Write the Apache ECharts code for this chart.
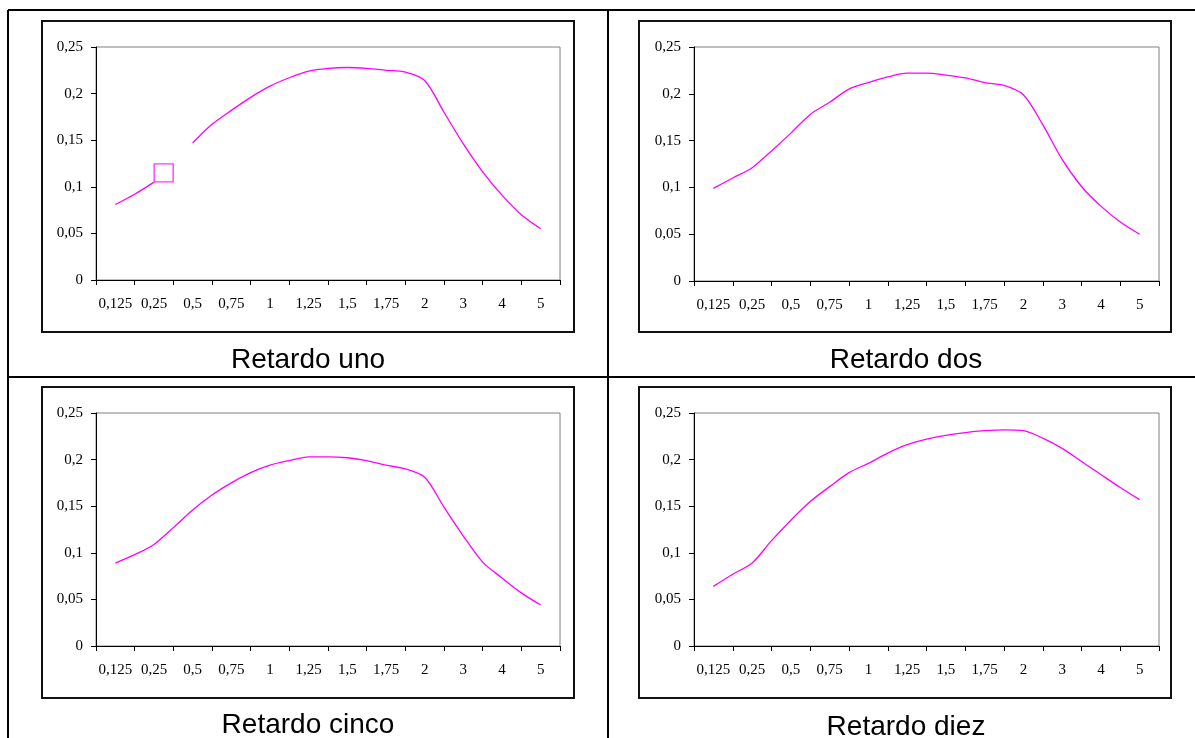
<!DOCTYPE html>
<html>
<head>
<meta charset="utf-8">
<script src="https://cdn.jsdelivr.net/npm/echarts@6/dist/echarts.min.js"></script>
<style>
html,body{margin:0;padding:0;background:#fff;}
#main{width:1195px;height:738px;}
</style>
</head>
<body>
<div id="main"></div>
<script>
// etiquetas del eje x
var categories=['0,125','0,25','0,5','0,75','1','1,25','1,5','1,75','2','3','4','5'];
// posiciones de las muestras (en unidades de categoria)
var steps=[0,0.5,1,1.5,2,2.5,3,3.5,4,4.5,5,5.5,6,6.5,7,7.5,8,8.5,9,9.5,10,10.5,11];
var titulos=['Retardo uno','Retardo dos','Retardo cinco','Retardo diez'];

var retardoUno=[0.081,0.092,0.105,null,0.147,0.167,0.182,0.196,0.208,0.217,0.224,0.227,0.228,0.227,0.225,0.223,0.214,0.180,0.146,0.116,0.091,0.070,0.055];
var retardoDos=[0.099,0.110,0.121,0.139,0.158,0.178,0.191,0.205,0.212,0.218,0.222,0.222,0.220,0.217,0.212,0.209,0.199,0.167,0.130,0.101,0.080,0.063,0.050];
var retardoCinco=[0.089,0.098,0.109,0.127,0.146,0.162,0.175,0.186,0.194,0.199,0.203,0.203,0.202,0.199,0.194,0.190,0.181,0.149,0.118,0.090,0.073,0.057,0.044];
var retardoDiez=[0.064,0.077,0.089,0.113,0.135,0.155,0.171,0.186,0.196,0.207,0.216,0.222,0.226,0.229,0.231,0.232,0.231,0.223,0.212,0.198,0.184,0.170,0.157];
// el cuadrado del primer grafico
var marcaUno=[[1.25,0.115]];

var series_vals=[retardoUno,retardoDos,retardoCinco,retardoDiez];

var grids=[
	{left:96,top:47,width:464,height:233},
	{left:694,top:47,width:465,height:234},
	{left:96,top:413,width:464,height:233},
	{left:694,top:413,width:465,height:233}
];
var cajas=[[42,21,532,311],[639,21,532,311],[42,387,532,311],[639,387,532,311]];
var titPos=[[308,360],[906,360],[308,725],[906,727]];

var serif='"Liberation Serif","Times New Roman",serif';
var xAxes=[],yAxes=[],series=[],graphic=[];

grids.forEach(function(g,i){
	g.show=true;
	g.borderColor='#808080';
	g.borderWidth=1;
	g.backgroundColor='#fff';
	xAxes.push({
		type:'category',gridIndex:i,data:categories,boundaryGap:true,
		axisLine:{onZero:false,lineStyle:{color:'#000',width:1}},
		axisTick:{show:true,length:5,interval:0,lineStyle:{color:'#000'}},
		axisLabel:{interval:0,margin:17,color:'#000',fontFamily:serif,fontSize:15},
		splitLine:{show:false}
	});
	xAxes.push({type:'value',gridIndex:i,min:-0.5,max:11.5,show:false});
	yAxes.push({
		type:'value',gridIndex:i,min:0,max:0.25,interval:0.05,
		axisLine:{show:true,onZero:false,lineStyle:{color:'#000',width:1}},
		axisTick:{show:true,length:5,lineStyle:{color:'#000'}},
		axisLabel:{margin:13,color:'#000',fontFamily:serif,fontSize:15,
			formatter:function(v){return String(+v.toFixed(2)).replace('.',',');}},
		splitLine:{show:false}
	});
	var vals=series_vals[i];
	series.push({
		type:'line',xAxisIndex:i*2+1,yAxisIndex:i,
		data:steps.map(function(s,k){return [s,vals[k]==null?'-':vals[k]];}),
		showSymbol:false,smooth:0.3,connectNulls:false,
		lineStyle:{color:'#ff00ff',width:1.3},
		itemStyle:{color:'#ff00ff'},
		silent:true
	});
	var c=cajas[i];
	graphic.push({type:'rect',shape:{x:c[0],y:c[1],width:c[2],height:c[3]},
		style:{fill:null,stroke:'#111',lineWidth:2},z:-1});
	graphic.push({type:'text',x:titPos[i][0],y:titPos[i][1],
		style:{text:titulos[i],fill:'#000',font:'28px "Liberation Sans", Arial, sans-serif',
			textAlign:'center',textVerticalAlign:'middle'}});
});

series.push({
	type:'scatter',xAxisIndex:1,yAxisIndex:0,data:marcaUno,
	symbol:'rect',symbolSize:[19,18],silent:true,
	itemStyle:{color:'rgba(255,255,255,0)',borderColor:'#ff00ff',borderWidth:1.3}
});

// lineas de la tabla
var lineas=[[8,10,1195,10],[8,377,1195,377],[8,10,8,738],[608,10,608,738]];
lineas.forEach(function(l){
	graphic.push({type:'line',shape:{x1:l[0],y1:l[1],x2:l[2],y2:l[3]},
		style:{stroke:'#000',lineWidth:2}});
});

var mychart=echarts.init(document.getElementById('main'));
mychart.setOption({
	animation:false,
	backgroundColor:'#fff',
	grid:grids,
	xAxis:xAxes,
	yAxis:yAxes,
	series:series,
	graphic:graphic
});
</script>
</body>
</html>
